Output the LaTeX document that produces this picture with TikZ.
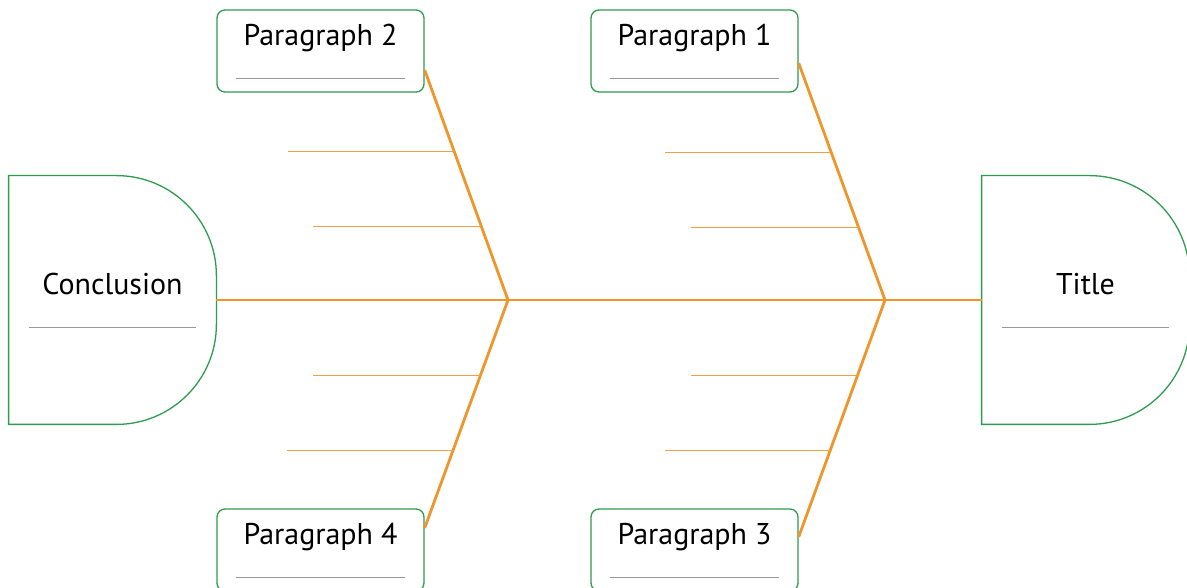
\documentclass[tikz,border=0pt]{standalone}
\usepackage{fontspec}
\setmainfont{PT Sans}
\usetikzlibrary{calc}
\definecolor{bone}{HTML}{F0952A}
\definecolor{ribc}{HTML}{F3A040}
\definecolor{frame}{HTML}{2E9B4F}
\definecolor{rulec}{HTML}{999999}
\tikzset{
  parabox/.style={draw=frame, line width=0.65pt, rounded corners=4pt,
    minimum width=103.5pt, minimum height=41pt, inner sep=0pt},
  headbox/.style={minimum width=103.5pt, minimum height=124pt, inner sep=0pt},
  dshape/.style={draw=frame, line width=0.65pt},
  lbl/.style={font=\fontsize{15}{18}\selectfont, anchor=base, inner sep=0pt},
  blank/.style={draw=rulec, line width=0.75pt},
  spine/.style={draw=bone, line width=1.4pt},
  rib/.style={draw=ribc, line width=0.6pt}
}
\begin{document}
\begin{tikzpicture}[x=0.5pt, y=0.5pt]
      \useasboundingbox (0,0) rectangle (1187,588);
      % boxes
      \node[parabox] (p2) at (320.5,537) {};
      \node[parabox] (p1) at (694.5,537) {};
      \node[parabox] (p4) at (320.5,38) {};
      \node[parabox] (p3) at (694.5,38) {};
      \node[headbox] (concl) at (112.5,288) {};
      \node[headbox] (title) at (1085.5,288) {};
      % head shapes
      \draw[dshape] (concl.north west) -- ([xshift=-50pt]concl.north east)
        arc[start angle=90, end angle=0, radius=50pt] -- ([yshift=50pt]concl.south east)
        arc[start angle=0, end angle=-90, radius=50pt] -- (concl.south west) -- cycle;
      \draw[dshape] (title.north west) -- ([xshift=-50pt]title.north east)
        arc[start angle=90, end angle=0, radius=50pt] -- ([yshift=50pt]title.south east)
        arc[start angle=0, end angle=-90, radius=50pt] -- (title.south west) -- cycle;
      % labels
      \node[lbl] (p2t) at ([yshift=-18pt]p2.north) {Paragraph 2};
      \node[lbl] (p1t) at ([yshift=-18pt]p1.north) {Paragraph 1};
      \node[lbl] (p4t) at ([yshift=-18pt]p4.north) {Paragraph 4};
      \node[lbl] (p3t) at ([yshift=-18pt]p3.north) {Paragraph 3};
      \node[lbl] (conclt) at ([yshift=-59.5pt]concl.north) {Conclusion};
      \node[lbl] (titlet) at ([yshift=-59.5pt]title.north) {Title};
      % blank lines
      \begin{scope}[blank]
        \draw ([shift={(10pt,7pt)}]p2.south west) -- ([shift={(-10pt,7pt)}]p2.south east);
        \draw ([shift={(10pt,7pt)}]p1.south west) -- ([shift={(-10pt,7pt)}]p1.south east);
        \draw ([shift={(10pt,7pt)}]p4.south west) -- ([shift={(-10pt,7pt)}]p4.south east);
        \draw ([shift={(10pt,7pt)}]p3.south west) -- ([shift={(-10pt,7pt)}]p3.south east);
        \draw ([shift={(10pt,48.5pt)}]concl.south west) -- ([shift={(-10pt,48.5pt)}]concl.south east);
        \draw ([shift={(10pt,48.5pt)}]title.south west) -- ([shift={(-10pt,48.5pt)}]title.south east);
      \end{scope}
      % spine and bones
      \coordinate (j1) at (508,288);
      \coordinate (j2) at (885,288);
      \coordinate (b2) at ([yshift=-9.5pt]p2.east);
      \coordinate (b1) at ([yshift=-6pt]p1.east);
      \coordinate (b4) at ([yshift=11pt]p4.east);
      \coordinate (b3) at ([yshift=6.5pt]p3.east);
      \begin{scope}[spine]
        \draw (concl.east) -- (j1) -- (j2) -- (title.west);
        \draw (j1) -- (b2);
        \draw (j2) -- (b1);
        \draw (j1) -- (b4);
        \draw (j2) -- (b3);
      \end{scope}
      % ribs
      \begin{scope}[rib]
        \draw ($(j1)!0.646!(b2)$) -- ++(-83pt,0);
        \draw ($(j1)!0.319!(b2)$) -- ++(-84pt,0);
        \draw ($(j2)!0.623!(b1)$) -- ++(-83pt,0);
        \draw ($(j2)!0.305!(b1)$) -- ++(-84pt,0);
        \draw ($(j1)!0.332!(b4)$) -- ++(-83.5pt,0);
        \draw ($(j1)!0.659!(b4)$) -- ++(-83pt,0);
        \draw ($(j2)!0.319!(b3)$) -- ++(-83pt,0);
        \draw ($(j2)!0.634!(b3)$) -- ++(-82.5pt,0);
      \end{scope}
    \end{tikzpicture}
\end{document}
